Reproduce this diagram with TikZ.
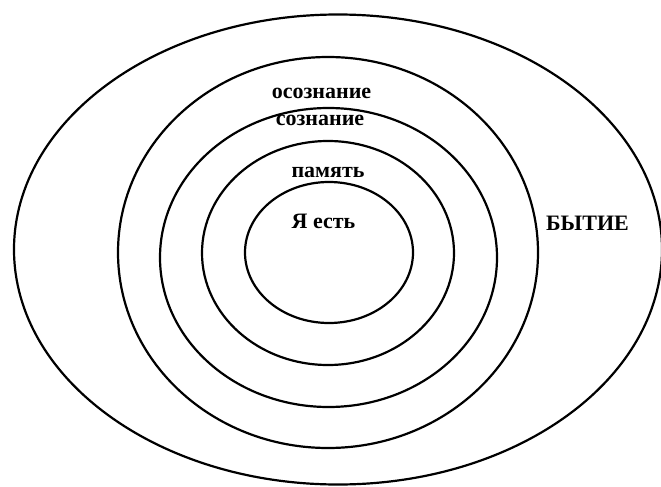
\documentclass[tikz,border=0pt]{standalone}
\usepackage{fontspec}
\setmainfont{Liberation Serif}
\begin{document}
\begin{tikzpicture}[x=1pt,y=-1pt,
  ring/.style={draw=black,line width=2.2pt},
  lbl/.style={inner sep=0pt,font=\bfseries\fontsize{22}{22}\selectfont}]
\useasboundingbox (0,0) rectangle (661,487);
\fill[white] (0,0) rectangle (661,487);
\draw[ring] (338,249.5) ellipse [x radius=324,y radius=235];
\draw[ring] (328,252.5) ellipse [x radius=210,y radius=195.5];
\draw[ring] (328.5,257.5) ellipse [x radius=168.5,y radius=149.5];
\draw[ring] (328,253) ellipse [x radius=126,y radius=112];
\draw[ring] (329,252.5) ellipse [x radius=84,y radius=70.5];
\node[lbl,anchor=base] (osoz) at (321.5,98) {осознание};
\node[lbl,anchor=base] (soz) at (320,125) {сознание};
\node[lbl,anchor=base] (pam) at (328,177) {память};
\node[lbl,anchor=base] (ya) at (323.5,228) {Я есть};
\node[lbl,anchor=base] (byt) at (587.5,230) {БЫТИЕ};
\end{tikzpicture}
\end{document}
